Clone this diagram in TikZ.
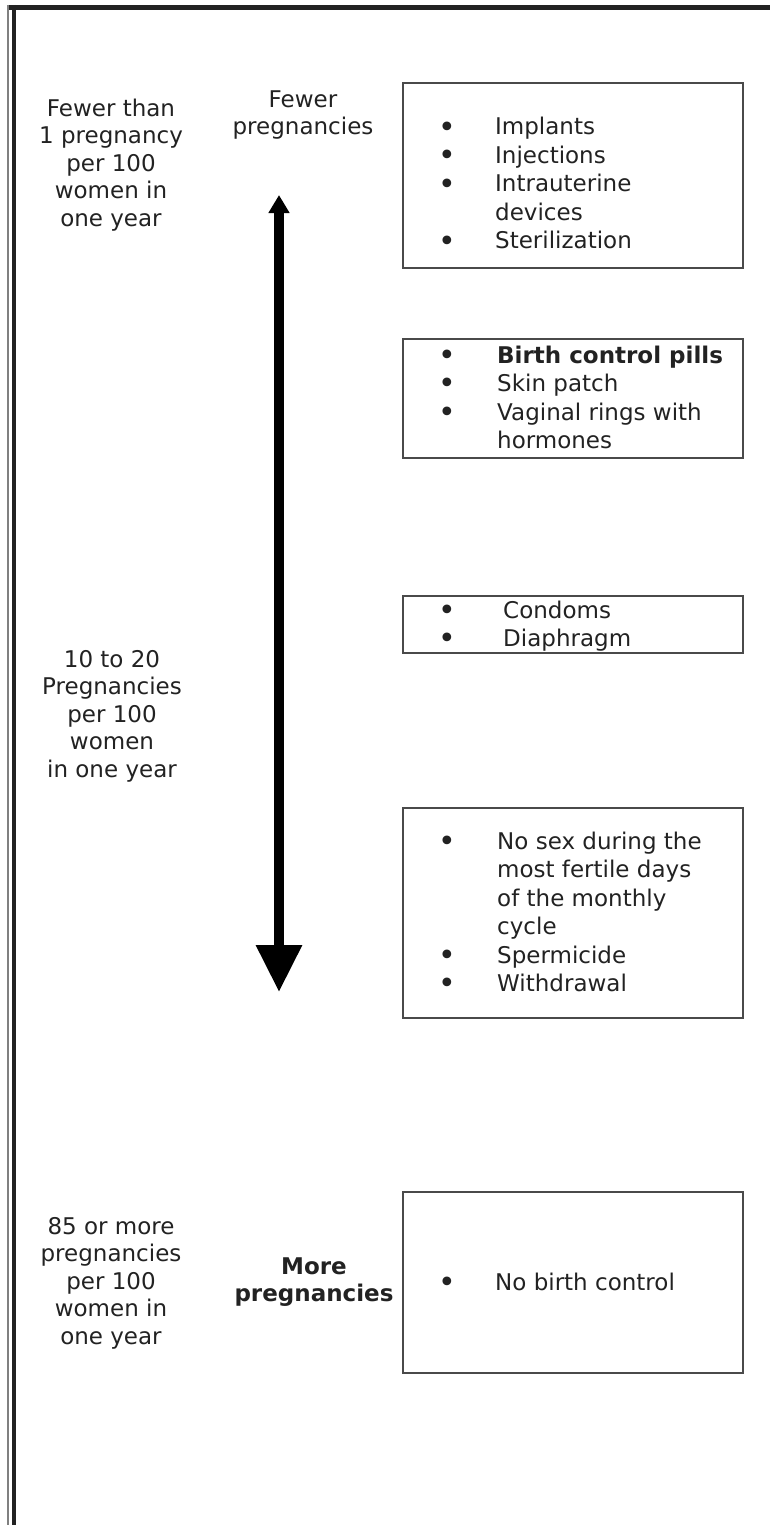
\documentclass[tikz,border=0pt]{standalone}
\usepackage{fontspec}
\usepackage{graphicx}
\setmainfont{DejaVu Sans}
\usetikzlibrary{arrows.meta}
\definecolor{txt}{HTML}{222222}
\definecolor{boxc}{HTML}{4A4A4A}
\definecolor{framec}{HTML}{222222}
\definecolor{framegray}{HTML}{808080}
\newcommand\bul[1][56pt]{\makebox[#1][l]{\hspace{-1.5pt}\raisebox{-0.1em}{\scalebox{1.3}{\textbullet}}}}
\begin{document}
\begin{tikzpicture}[x=1pt,y=-1pt,
  lbl/.style={font=\fontsize{23pt}{27.5pt}\selectfont, text=txt, align=center, inner sep=0pt},
  boxnode/.style={draw=boxc, line width=1.8pt, minimum width=340pt, inner sep=0pt},
  lst/.style={font=\fontsize{23pt}{28.5pt}\selectfont, text=txt, inner sep=0pt, anchor=base west}]
\useasboundingbox (0,0) rectangle (770,1525);
% frame
\coordinate (ftl) at (8,7.5);
\coordinate (ftr) at (770,7.5);
\coordinate (fo1) at (8.3,5);
\coordinate (fo2) at (8.3,1525);
\coordinate (fi1) at (14,5);
\coordinate (fi2) at (14,1525);
\draw[framec, line width=5pt] (ftl) -- (ftr);
\draw[framegray, line width=2pt] (fo1) -- (fo2);
\draw[framec, line width=4pt] (fi1) -- (fi2);
% left column
\node[lbl] (l1) at (111,165) {Fewer than\\1 pregnancy\\per 100\\women in\\one year};
\node[lbl] (l2) at (112,716) {10 to 20\\Pregnancies\\per 100\\women\\in one year};
\node[lbl] (l3) at (111,1283) {85 or more\\pregnancies\\per 100\\women in\\one year};
% middle column
\node[lbl] (m1) at (303,115) {Fewer\\pregnancies};
\node[lbl] (m3) at (314,1282) {\textbf{More}\\\textbf{pregnancies}};
% arrow
\coordinate (atop) at (279,195);
\coordinate (abot) at (279,992);
\draw[black, line width=9.5pt, {Triangle[width=20pt,length=18pt]}-{Triangle[width=44pt,length=47pt]}] (atop) -- (abot);
% boxes
\node[boxnode, minimum height=185pt] (b1) at (573,175.5) {};
\node[boxnode, minimum height=119pt] (b2) at (573,398.5) {};
\node[boxnode, minimum height=57pt] (b3) at (573,624.5) {};
\node[boxnode, minimum height=210pt] (b4) at (573,913) {};
\node[boxnode, minimum height=181pt] (b5) at (573,1282.5) {};
% lists
\node[lst] (t1) at (440,135) {\begin{tabular}[t]{@{}l@{}}
\bul[55pt]Implants\\ \bul[55pt]Injections\\ \bul[55pt]Intrauterine\\ \hspace{55pt}devices\\ \bul[55pt]Sterilization\end{tabular}};
\node[lst] (t2) at (440,363) {\begin{tabular}[t]{@{}l@{}}
\bul[57pt]\textbf{Birth control pills}\\ \bul[57pt]Skin patch\\ \bul[57pt]Vaginal rings with\\ \hspace{57pt}hormones\end{tabular}};
\node[lst] (t3) at (440,618) {\begin{tabular}[t]{@{}l@{}}
\bul[63pt]Condoms\\ \bul[63pt]Diaphragm\end{tabular}};
\node[lst] (t4) at (440,849) {\begin{tabular}[t]{@{}l@{}}
\bul[57pt]No sex during the\\ \hspace{57pt}most fertile days\\ \hspace{57pt}of the monthly\\ \hspace{57pt}cycle\\ \bul[57pt]Spermicide\\ \bul[57pt]Withdrawal\end{tabular}};
\node[lst] (t5) at (440,1290) {\bul[55pt]No birth control};
\end{tikzpicture}
\end{document}
